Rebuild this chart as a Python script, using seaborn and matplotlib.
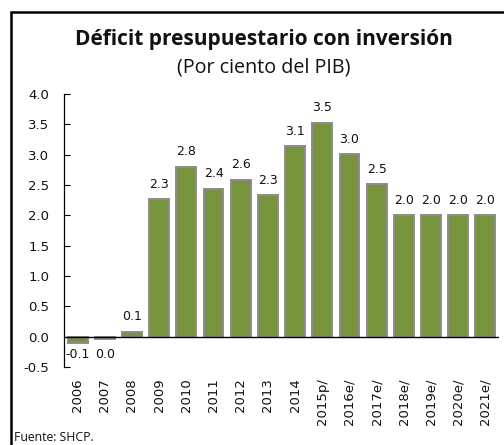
import matplotlib
matplotlib.use("Agg")
import matplotlib.pyplot as plt
from matplotlib.lines import Line2D
import seaborn as sns
import pandas as pd

years = ["2006", "2007", "2008", "2009", "2010", "2011", "2012", "2013",
         "2014", "2015p/", "2016e/", "2017e/", "2018e/", "2019e/", "2020e/", "2021e/"]
deficit = [-0.10, -0.04, 0.08, 2.27, 2.80, 2.44, 2.59, 2.33,
           3.14, 3.53, 3.01, 2.51, 2.00, 2.00, 2.00, 2.00]
yticks = [-0.5, 0.0, 0.5, 1.0, 1.5, 2.0, 2.5, 3.0, 3.5, 4.0]

title = "Déficit presupuestario con inversión"
subtitle = "(Por ciento del PIB)"
source = "Fuente: SHCP."

sns.set_theme(style="white")
plt.rcParams["font.family"] = ["DejaVu Sans"]

W, H = 504, 445
fig = plt.figure(figsize=(W / 100, H / 100), dpi=100)

# axes box in pixels: left 64, right 499, top 94 (y=4.0), bottom 367 (y=-0.5)
ax = fig.add_axes([64 / W, 1 - 367 / H, (499 - 64) / W, (367 - 94) / H])

df = pd.DataFrame({"year": years, "deficit": deficit})
sns.barplot(data=df, x="year", y="deficit", ax=ax, color="#77933C",
            saturation=1, width=0.73, edgecolor="#8C8C8C", linewidth=1.4)

ax.set_ylim(-0.5, 4.0)
ax.set_xlim(-0.5, len(years) - 0.5)
ax.set_yticks(yticks)
ax.set_yticklabels([f"{t:.1f}" for t in yticks], fontsize=9.5, color="#111111")
ax.tick_params(axis="y", direction="in", length=4, width=0.8, color="black", pad=10.5, left=True)
ax.tick_params(axis="x", length=0, pad=8)
ax.set_xticks(range(len(years)))
ax.set_xticklabels(years, rotation=90, fontsize=9.5, color="#111111")
ax.set_xlabel("")
ax.set_ylabel("")

for s in ["top", "right", "bottom"]:
    ax.spines[s].set_visible(False)
ax.spines["left"].set_color("black")
ax.spines["left"].set_linewidth(0.9)
ax.axhline(0, color="black", lw=1.0, zorder=3)

for i, v in enumerate(deficit):
    lab = f"{round(v, 1) + 0.0:.1f}"
    if v >= 0:
        ax.annotate(lab, (i, v), xytext=(0, 6), textcoords="offset points",
                    ha="center", va="bottom", fontsize=9, color="#111111")
    else:
        ax.annotate(lab, (i, min(v, -0.1)), xytext=(0, -4), textcoords="offset points",
                    ha="center", va="top", fontsize=9, color="#111111")

fig.text(264 / W, 1 - 45 / H, title, ha="center", va="baseline",
         fontsize=15, fontweight="bold", family="Open Sans", color="#111111")
fig.text(264 / W, 1 - 72 / H, subtitle, ha="center", va="baseline",
         fontsize=14.2, family="Open Sans", color="#111111")
fig.text(14 / W, 1 - 441 / H, source, ha="left", va="baseline",
         fontsize=8.8, family="Open Sans", color="#111111")

# outer frame (left and top edges)
fig.add_artist(Line2D([11 / W, 11 / W], [0, 1 - 12 / H], transform=fig.transFigure,
                      color="black", lw=1.8))
fig.add_artist(Line2D([11 / W, 1], [1 - 12 / H, 1 - 12 / H], transform=fig.transFigure,
                      color="black", lw=1.8))

fig.savefig("out.png", dpi=100)
